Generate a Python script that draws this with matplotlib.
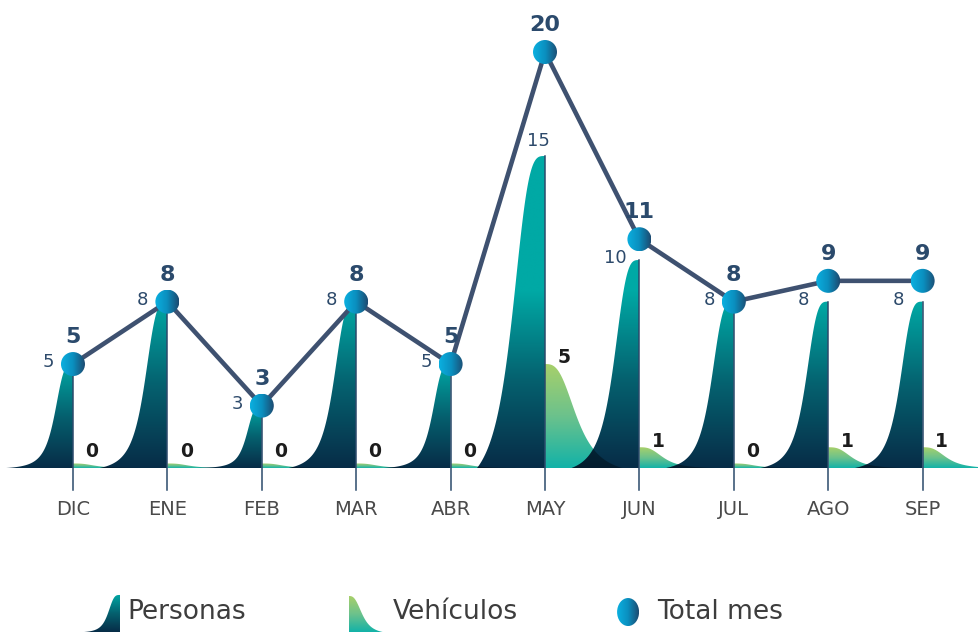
import numpy as np
import matplotlib
matplotlib.use("Agg")
import matplotlib.pyplot as plt
from matplotlib.colors import LinearSegmentedColormap
from matplotlib.patches import Polygon, Ellipse

meses = ["DIC", "ENE", "FEB", "MAR", "ABR", "MAY", "JUN", "JUL", "AGO", "SEP"]
personas = [5, 8, 3, 8, 5, 15, 10, 8, 8, 8]
vehiculos = [0, 0, 0, 0, 0, 5, 1, 0, 1, 1]
total_mes = [5, 8, 3, 8, 5, 20, 11, 8, 9, 9]

plt.rcParams["font.family"] = ["DejaVu Sans"]

W, H = 979, 632
fig = plt.figure(figsize=(W / 100, H / 100), dpi=100)
ax = fig.add_axes([0, 0, 1, 1])
x0, x1 = -0.773, 9.597
y0, y1 = -7.88, 22.5
ax.axis("off")
sx = W / (x1 - x0)   # px por unidad x
sy = H / (y1 - y0)   # px por unidad y

cmap_p = LinearSegmentedColormap.from_list("p", ["#072c47", "#05616f", "#00a9a5"])
cmap_v = LinearSegmentedColormap.from_list("v", ["#12b2a8", "#6cc28c", "#a8d06a"])
cmap_t = LinearSegmentedColormap.from_list("t", ["#0bb0e0", "#0a8fbf", "#1d4a70"])


def perfil(d, a, k, L):
    h = 1 / (1 + (d / a) ** k)
    hL = 1 / (1 + (L / a) ** k)
    return np.clip((h - hL) / (1 - hL), 0, 1)


def puntos(xc, v, lado, a, k, L, yb=0.0):
    d = np.linspace(0, L, 150)
    ys = yb + v * perfil(d, a, k, L)
    xs = xc + lado * d
    return np.vstack([[xc, yb], np.column_stack([xs, ys]), [xc + lado * L, yb]])


def forma(xc, v, lado, a, k, L, cmap, tope, z, yb=0.0):
    pts = puntos(xc, v, lado, a, k, L, yb)
    poly = Polygon(pts, closed=True, facecolor="none", edgecolor="none")
    ax.add_patch(poly)
    grad = np.clip(np.linspace(0, v, 256) / tope, 0, 1).reshape(-1, 1)
    xmin, xmax = min(xc, xc + lado * L), max(xc, xc + lado * L)
    im = ax.imshow(grad, extent=[xmin, xmax, yb, yb + v], origin="lower", cmap=cmap,
                   vmin=0, vmax=1, aspect="auto", zorder=z, interpolation="bilinear")
    im.set_clip_path(poly)
    return poly


def bola(xc, yc, rx, ry, z):
    w, h = rx / sx, ry / sy
    el = Ellipse((xc, yc), 2 * w, 2 * h, facecolor="none", edgecolor="none")
    ax.add_patch(el)
    grad = np.linspace(0, 1, 256).reshape(1, -1)
    im = ax.imshow(grad, extent=[xc - w, xc + w, yc - h, yc + h], origin="lower", cmap=cmap_t,
                   aspect="auto", zorder=z, interpolation="bilinear")
    im.set_clip_path(el)


xs = np.arange(len(meses))

# vehiculos (debajo)
veh_pts = []
for i, v in enumerate(vehiculos):
    hv = max(v, 0.22)
    forma(xs[i], hv, +1, 0.24 + 0.022 * hv, 3.0, 0.82, cmap_v, hv, 2)
    veh_pts.append(puntos(xs[i], hv, +1, 0.24 + 0.022 * hv, 3.0, 0.82))

# personas
for i, p in enumerate(personas):
    poly = forma(xs[i], p, -1, 0.12 + 0.016 * p, 3.5, 0.72, cmap_p, min(p, 8.5), 3)
    ax.plot([xs[i], xs[i]], [p, -1.06], color="#2b4a6b", lw=1.1, zorder=3.5)
    # sombra donde se solapa con vehiculos del mes anterior
    if i > 0:
        sombra = Polygon(veh_pts[i - 1], closed=True, facecolor="#000000", alpha=0.35,
                         edgecolor="none", zorder=3.2)
        ax.add_patch(sombra)
        sombra.set_clip_path(poly)

# total
ax.plot(xs, total_mes, color="#3e5170", lw=3.3, zorder=5, solid_capstyle="round")
for i, t in enumerate(total_mes):
    bola(xs[i], t, 12, 12, 6)
    ax.text(xs[i], t + 1.3, str(t), ha="center", va="center", fontsize=16,
            fontweight="bold", color="#2b4a6c", zorder=7)

# etiquetas
for i, p in enumerate(personas):
    if total_mes[i] - p > 2:
        ax.text(xs[i] - 0.07, p + 0.7, str(p), ha="center", va="center", fontsize=13,
                color="#2d4a6b", zorder=7)
    else:
        ax.text(xs[i] - 0.26, p + 0.1, str(p), ha="center", va="center", fontsize=13,
                color="#2d4a6b", zorder=7)

for i, v in enumerate(vehiculos):
    ax.text(xs[i] + 0.2, max(v, 0.5) + 0.3, str(v), ha="center", va="center", fontsize=13.5,
            fontweight="bold", color="#1c1c1c", zorder=7)

for i, m in enumerate(meses):
    ax.text(xs[i], -1.97, m, ha="center", va="center", fontsize=14, color="#4a4a4a")

# leyenda
forma(0.498, 1.78, -1, 0.13, 3.5, 0.38, cmap_p, 1.78, 3, yb=y0)
ax.text(0.58, -6.92, "Personas", ha="left", va="center", fontsize=19, color="#3d3d3d")
forma(2.92, 1.73, +1, 0.15, 3.0, 0.36, cmap_v, 1.73, 3, yb=y0)
ax.text(3.39, -6.92, "Vehículos", ha="left", va="center", fontsize=19, color="#3d3d3d")
bola(5.88, -6.92, 11, 14, 6)
ax.text(6.19, -6.92, "Total mes", ha="left", va="center", fontsize=19, color="#3d3d3d")

ax.set_xlim(x0, x1)
ax.set_ylim(y0, y1)
fig.savefig("out.png", dpi=100)
